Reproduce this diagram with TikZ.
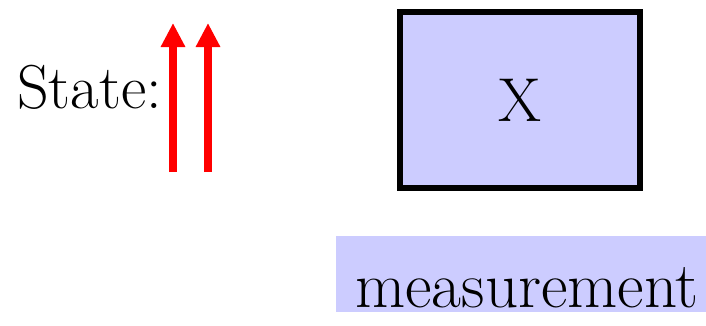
\documentclass[tikz,border=0pt]{standalone}
\usepackage{xcolor}
\usetikzlibrary{arrows.meta, positioning, calc}
\definecolor{lavender}{RGB}{204,204,255}
\tikzset{
  bigtext/.style={font=\fontsize{62}{74}\selectfont},
  spin/.style={red, line width=8pt, -{Triangle[length=24pt,width=23pt]}},
}
\begin{document}
\begin{tikzpicture}[x=1pt,y=1pt]
			\useasboundingbox (0,0) rectangle (706,325);
			\node[bigtext, anchor=base west, inner sep=0pt] (state) at (17,217) {State:};
			\coordinate (s1) at (173,153);
			\coordinate (s2) at (208,153);
			\draw[spin] (s1) -- ($(s1)+(0,149)$);
			\draw[spin] (s2) -- ($(s2)+(0,149)$);
			\node[bigtext, draw=black, line width=6pt, fill=lavender, minimum width=240pt, minimum height=176pt] (gate) at (520,225) {X};
			\node[bigtext, font=\fontsize{65}{78}\selectfont, fill=lavender, minimum width=370pt, inner xsep=0pt, inner ysep=5pt, text height=66pt, text depth=0pt] (meas) at (521,51) {\hspace{12pt}measurement};
		\end{tikzpicture}
\end{document}
